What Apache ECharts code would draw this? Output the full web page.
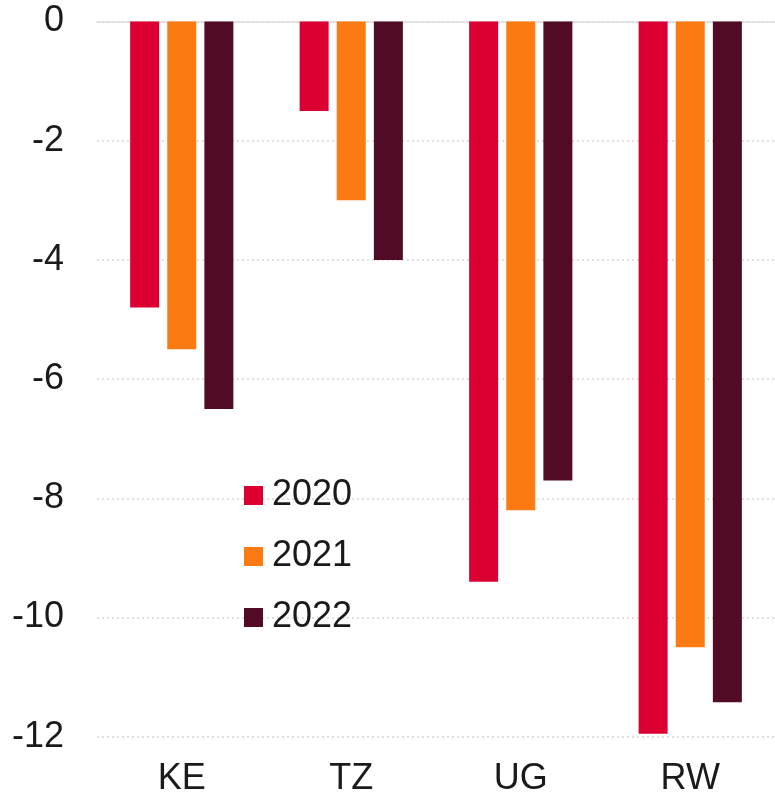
<!DOCTYPE html>
<html>
<head>
<meta charset="utf-8">
<script src="https://cdn.jsdelivr.net/npm/echarts@6/dist/echarts.min.js"></script>
<style>
html,body{margin:0;padding:0;background:#fff;}
#chart{width:775px;height:797px;}
</style>
</head>
<body>
<div id="chart"></div>
<script>
const categories = ['KE', 'TZ', 'UG', 'RW'];
const years = ['2020', '2021', '2022'];
const values2020 = [-4.8, -1.5, -9.4, -11.95];
const values2021 = [-5.5, -3.0, -8.2, -10.5];
const values2022 = [-6.5, -4.0, -7.7, -11.42];
const colors = ['#DC0032', '#FC7A12', '#520B27'];
const seriesValues = [values2020, values2021, values2022];

const FONT = '"Liberation Sans", Arial, sans-serif';
const chart = echarts.init(document.getElementById('chart'), null, {renderer: 'canvas'});
chart.setOption({
  animation: false,
  backgroundColor: '#ffffff',
  grid: {left: 97, right: 0, top: 21.5, bottom: 60.3, containLabel: false},
  legend: {
    orient: 'vertical',
    left: 244,
    top: 477,
    padding: 0,
    itemWidth: 19,
    itemHeight: 19,
    itemGap: 24,
    icon: 'rect',
    data: years,
    textStyle: {fontFamily: FONT, fontSize: 36, color: '#1a1a1a', padding: [0, 0, 0, 4], lineHeight: 37}
  },
  xAxis: [{
    type: 'category',
    data: categories,
    position: 'bottom',
    axisLine: {show: false, onZero: false},
    axisTick: {show: false},
    axisLabel: {fontFamily: FONT, fontSize: 36, color: '#1a1a1a', margin: 24}
  }, {
    type: 'category',
    data: categories,
    position: 'top',
    axisLine: {show: true, onZero: false, lineStyle: {color: '#dddddd', width: 1.5}},
    axisTick: {show: false},
    axisLabel: {show: false}
  }],
  yAxis: {
    type: 'value',
    min: -12,
    max: 0,
    interval: 2,
    axisLine: {show: false},
    axisTick: {show: false},
    splitLine: {show: true, lineStyle: {color: '#d8d8d8', type: [2, 3], width: 1.5}},
    axisLabel: {fontFamily: FONT, fontSize: 36, color: '#1a1a1a', margin: 33}
  },
  series: years.map((y, i) => ({
    name: y,
    type: 'bar',
    xAxisIndex: 0,
    data: seriesValues[i],
    barWidth: 29,
    barGap: '28%',
    itemStyle: {color: colors[i]}
  }))
});
</script>
</body>
</html>
